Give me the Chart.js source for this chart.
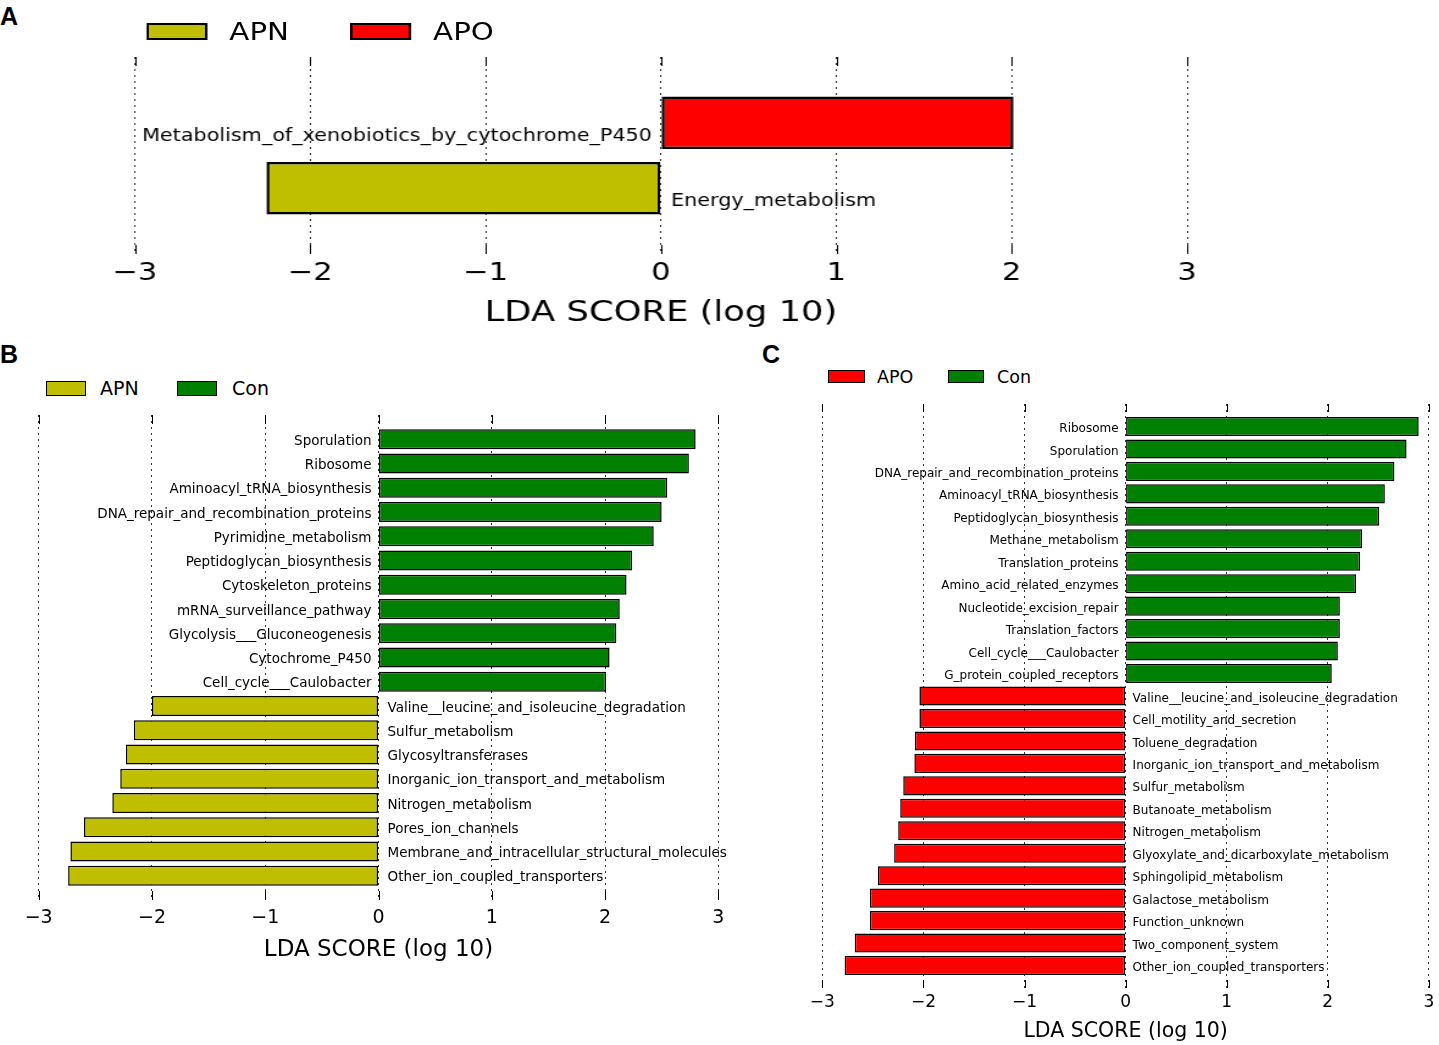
<!DOCTYPE html>
<html>
<head>
<meta charset="utf-8">
<script src="https://cdn.jsdelivr.net/npm/chart.js@4.4.0/dist/chart.umd.min.js"></script>
<style>
  body { margin: 0; background: #fff; width: 1439px; height: 1045px; position: relative; overflow: hidden; font-family: "DejaVu Sans", sans-serif; }
  .abs { position: absolute; }
  .letter { position: absolute; font-family: "Liberation Sans", Arial, sans-serif; font-weight: bold; font-size: 25px; line-height: 25px; }
  .box { position: absolute; box-sizing: border-box; border: 2px solid #000; }
  .ltxt { position: absolute; white-space: nowrap; }
</style>
</head>
<body>

<div class="letter" style="left:0px; top:4px;">A</div>
<div class="letter" style="left:0px; top:342px;">B</div>
<div class="letter" style="left:762px; top:342px;">C</div>

<!-- panel A is stretched sideways like the original figure -->
<div id="wrapA" class="abs" style="left:0; top:0; width:1180px; height:340px; transform: scaleX(1.22); transform-origin: 0 0;">
  <canvas id="chartA" width="1180" height="340"></canvas>
  <div class="box" style="left:120px; top:23px; width:50px; height:17px; background:#BFBF00;"></div>
  <div class="ltxt" style="left:188px; top:17px; font-size:24px; line-height:30px;">APN</div>
  <div class="box" style="left:287px; top:23px; width:50px; height:17px; background:#FF0000;"></div>
  <div class="ltxt" style="left:355px; top:17px; font-size:24px; line-height:30px;">APO</div>
</div>

<canvas id="chartB" class="abs" style="left:0; top:400px;" width="745" height="580"></canvas>
<div class="box" style="left:46px; top:381px; width:40px; height:15px; background:#BFBF00; border-width:1.5px;"></div>
<div class="ltxt" style="left:100px; top:376px; font-size:19px; line-height:24px;">APN</div>
<div class="box" style="left:177px; top:381px; width:40px; height:15px; background:#008000; border-width:1.5px;"></div>
<div class="ltxt" style="left:232px; top:376px; font-size:19px; line-height:24px;">Con</div>

<canvas id="chartC" class="abs" style="left:750px; top:390px;" width="689" height="655"></canvas>
<div class="box" style="left:828px; top:370px; width:37px; height:13px; background:#FF0000; border-width:1.5px;"></div>
<div class="ltxt" style="left:877px; top:365px; font-size:17.5px; line-height:24px;">APO</div>
<div class="box" style="left:948px; top:370px; width:36px; height:13px; background:#008000; border-width:1.5px;"></div>
<div class="ltxt" style="left:997px; top:365px; font-size:17.5px; line-height:24px;">Con</div>

<script>
// panel A
var aApoLabels = ['Metabolism_of_xenobiotics_by_cytochrome_P450'];
var aApoValues = [2.01];
var aApnLabels = ['Energy_metabolism'];
var aApnValues = [-2.25];

// panel B
var bConLabels = ['Sporulation', 'Ribosome', 'Aminoacyl_tRNA_biosynthesis', 'DNA_repair_and_recombination_proteins',
    'Pyrimidine_metabolism', 'Peptidoglycan_biosynthesis', 'Cytoskeleton_proteins', 'mRNA_surveillance_pathway',
    'Glycolysis___Gluconeogenesis', 'Cytochrome_P450', 'Cell_cycle___Caulobacter'];
var bConValues = [2.80, 2.74, 2.55, 2.50, 2.43, 2.24, 2.19, 2.13, 2.10, 2.04, 2.01];
var bApnLabels = ['Valine__leucine_and_isoleucine_degradation', 'Sulfur_metabolism', 'Glycosyltransferases',
    'Inorganic_ion_transport_and_metabolism', 'Nitrogen_metabolism', 'Pores_ion_channels',
    'Membrane_and_intracellular_structural_molecules', 'Other_ion_coupled_transporters'];
var bApnValues = [-2.00, -2.16, -2.23, -2.28, -2.35, -2.60, -2.72, -2.74];

// panel C
var cConLabels = ['Ribosome', 'Sporulation', 'DNA_repair_and_recombination_proteins', 'Aminoacyl_tRNA_biosynthesis',
    'Peptidoglycan_biosynthesis', 'Methane_metabolism', 'Translation_proteins', 'Amino_acid_related_enzymes',
    'Nucleotide_excision_repair', 'Translation_factors', 'Cell_cycle___Caulobacter', 'G_protein_coupled_receptors'];
var cConValues = [2.90, 2.78, 2.66, 2.565, 2.51, 2.34, 2.32, 2.28, 2.12, 2.12, 2.10, 2.04];
var cApoLabels = ['Valine__leucine_and_isoleucine_degradation', 'Cell_motility_and_secretion', 'Toluene_degradation',
    'Inorganic_ion_transport_and_metabolism', 'Sulfur_metabolism', 'Butanoate_metabolism', 'Nitrogen_metabolism',
    'Glyoxylate_and_dicarboxylate_metabolism', 'Sphingolipid_metabolism', 'Galactose_metabolism',
    'Function_unknown', 'Two_component_system', 'Other_ion_coupled_transporters'];
var cApoValues = [-2.04, -2.04, -2.085, -2.09, -2.20, -2.23, -2.25, -2.29, -2.45, -2.53, -2.53, -2.68, -2.78];

var xTicks = [-3, -2, -1, 0, 1, 2, 3];

var APN = '#BFBF00', APO = '#FF0000', CON = '#008000';
var FONT = '"DejaVu Sans"';

// feature names next to the zero line
var ldaLabels = {
    id: 'ldaLabels',
    afterDatasetsDraw: function (chart) {
        var o = chart.options.plugins.ldaLabels;
        var ctx = chart.ctx, xs = chart.scales.x, ys = chart.scales.y;
        var x0 = xs.getPixelForValue(0);
        ctx.save();
        ctx.font = o.size + 'px ' + FONT;
        ctx.fillStyle = '#000';
        ctx.textBaseline = 'middle';
        chart.data.datasets.forEach(function (ds) {
            ds.data.forEach(function (p) {
                var y = ys.getPixelForValue(p.y) + o.dy;
                if (p.x >= 0) {
                    ctx.textAlign = 'right';
                    ctx.fillText(p.name, x0 - o.gapL, y);
                } else {
                    ctx.textAlign = 'left';
                    ctx.fillText(p.name, x0 + o.gapR, y);
                }
            });
        });
        ctx.restore();
    }
};

// short solid ticks inside the top and bottom of the axes box
var innerTicks = {
    id: 'innerTicks',
    afterDraw: function (chart) {
        var len = chart.options.plugins.innerTicks.len;
        var ctx = chart.ctx, xs = chart.scales.x, a = chart.chartArea;
        ctx.save();
        ctx.strokeStyle = '#000';
        ctx.lineWidth = 1;
        xs.ticks.forEach(function (t) {
            var px = Math.round(xs.getPixelForValue(t.value)) + 0.5;
            ctx.beginPath();
            ctx.moveTo(px, a.top); ctx.lineTo(px, a.top + len);
            ctx.moveTo(px, a.bottom); ctx.lineTo(px, a.bottom - len);
            ctx.stroke();
        });
        ctx.restore();
    }
};

function makeSet(name, labels, values, color, start, o) {
    return {
        label: name,
        data: values.map(function (v, i) { return {x: v, y: start + i, name: labels[i]}; }),
        backgroundColor: color,
        borderColor: '#000',
        borderWidth: o.barBorder,
        borderSkipped: false,
        grouped: false,
        barPercentage: o.barPct,
        categoryPercentage: 1
    };
}

function buildPanel(id, sets, o) {
    var n = 0;
    var datasets = sets.map(function (s) {
        var ds = makeSet(s[0], s[1], s[2], s[3], n, o);
        n += s[1].length;
        return ds;
    });
    return new Chart(document.getElementById(id), {
        type: 'bar',
        data: {datasets: datasets},
        plugins: [ldaLabels, innerTicks],
        options: {
            responsive: false,
            animation: false,
            indexAxis: 'y',
            layout: {padding: o.pad},
            plugins: {
                legend: {display: false},
                tooltip: {enabled: false},
                ldaLabels: {size: o.labelSize, gapL: o.gapL, gapR: o.gapR, dy: o.dy},
                innerTicks: {len: o.tickLen}
            },
            scales: {
                x: {
                    type: 'linear',
                    min: -3,
                    max: 3,
                    z: 1,
                    afterBuildTicks: function (scale) {
                        scale.ticks = xTicks.map(function (v) { return {value: v}; });
                    },
                    afterFit: function (scale) { scale.height = o.axisH; },
                    grid: {color: '#333', lineWidth: 1, drawTicks: false},
                    border: {display: false, dash: [2, 4]},
                    ticks: {
                        color: '#000',
                        maxRotation: 0,
                        autoSkip: false,
                        padding: o.tickPad,
                        font: {family: FONT, size: o.tickSize},
                        callback: function (v) { return String(v).replace('-', '\u2212'); }
                    },
                    title: {
                        display: true,
                        text: 'LDA SCORE (log 10)',
                        color: '#000',
                        font: {family: FONT, size: o.titleSize},
                        padding: {top: 0, bottom: o.titlePad}
                    }
                },
                y: {
                    type: 'linear',
                    display: false,
                    reverse: true,
                    offset: false,
                    grid: {offset: false},
                    min: -1,
                    max: n,
                    ticks: {stepSize: 1}
                }
            }
        }
    });
}

buildPanel('chartA', [
    ['APO', aApoLabels, aApoValues, APO],
    ['APN', aApnLabels, aApnValues, APN]
], {
    pad: {left: 110.6, right: 207, top: 57, bottom: 0},
    axisH: 86, tickPad: 4, tickSize: 25, titleSize: 29, titlePad: 9.6,
    labelSize: 17, gapL: 7.4, gapR: 8.2, dy: 13.5,
    barPct: 0.8, barBorder: 2.5, tickLen: 9
});

buildPanel('chartB', [
    ['Con', bConLabels, bConValues, CON],
    ['APN', bApnLabels, bApnValues, APN]
], {
    pad: {left: 38.7, right: 26.7, top: 15, bottom: 0},
    axisH: 80, tickPad: 6.6, tickSize: 19, titleSize: 23, titlePad: 16.2,
    labelSize: 13.5, gapL: 7, gapR: 9, dy: 2,
    barPct: 0.82, barBorder: 1.5, tickLen: 9
});

buildPanel('chartC', [
    ['Con', cConLabels, cConValues, CON],
    ['APO', cApoLabels, cApoValues, APO]
], {
    pad: {left: 72.4, right: 7.3, top: 14, bottom: 0},
    axisH: 57, tickPad: 4.8, tickSize: 17, titleSize: 20.5, titlePad: 1,
    labelSize: 12, gapL: 7, gapR: 7, dy: 2.5,
    barPct: 0.85, barBorder: 1.5, tickLen: 8
});
</script>
</body>
</html>
